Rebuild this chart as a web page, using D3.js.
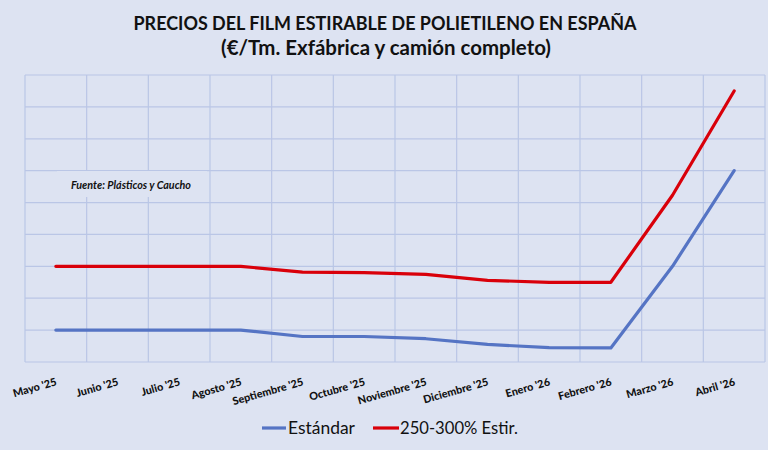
<!DOCTYPE html>
<html><head><meta charset="utf-8">
<script src="https://cdn.jsdelivr.net/npm/d3@7"></script>
<style>
html,body{margin:0;padding:0;background:#dde3f2;}
svg{display:block;}
</style></head>
<body>
<svg id="c" width="768" height="450"></svg>
<script>
const categories = ["Mayo '25","Junio '25","Julio '25","Agosto '25","Septiembre '25","Octubre '25","Noviembre '25","Diciembre '25","Enero '26","Febrero '26","Marzo '26","Abril '26"];
const estandar = [1100,1100,1100,1100,1080,1080,1073,1055,1045,1044,1300,1600];
const estir = [1300,1300,1300,1300,1282,1280,1275,1256,1250,1250,1523,1850];
const yTicks = [1000,1100,1200,1300,1400,1500,1600,1700,1800,1900];
const seriesNames = ["Estándar","250-300% Estir."];
const titleLines = ["PRECIOS DEL FILM ESTIRABLE DE POLIETILENO EN ESPAÑA","(€/Tm. Exfábrica y camión completo)"];
const sourceNote = "Fuente: Plásticos y Caucho";

const svg = d3.select("#c");
const W = 768, H = 450;
const m = {l:25, r:3, t:75, b:88};
const bg = "#dde3f2", grid = "#bac6e6";
const colors = ["#5574c4","#d9000a"];
const font = "Lato, 'Open Sans', sans-serif";

svg.append("rect").attr("width",W).attr("height",H).attr("fill",bg);

const x = d3.scaleBand().domain(categories).range([m.l, W-m.r]).padding(0);
const y = d3.scaleLinear().domain([1000,1900]).range([H-m.b, m.t]);

// gridlines
const g = svg.append("g");
g.append("g").selectAll("line").data(yTicks).join("line")
  .attr("x1",m.l).attr("x2",W-m.r)
  .attr("y1",d=>y(d)).attr("y2",d=>y(d))
  .attr("stroke",grid).attr("stroke-width",1.2);
const vb = categories.map(c=>x(c)).concat([W-m.r]);
g.append("g").selectAll("line").data(vb).join("line")
  .attr("x1",d=>d).attr("x2",d=>d)
  .attr("y1",m.t).attr("y2",H-m.b)
  .attr("stroke",grid).attr("stroke-width",1.2);

function fit(sel, target){ const n=sel.node(); const w=n.getComputedTextLength(); const fs=+sel.attr("font-size"); sel.attr("font-size", fs*target/w); }
function squeeze(sel, target){ const n=sel.node(); const w=n.getComputedTextLength(); if (w>target) sel.attr("textLength",target).attr("lengthAdjust","spacingAndGlyphs"); else fit(sel,target); }

// source note box
const note = svg.append("g");
note.append("rect").attr("x",57).attr("y",171).attr("width",150).attr("height",26).attr("fill",bg);
const nt = note.append("text").attr("x",71).attr("y",188.5)
  .attr("font-family",font).attr("font-style","italic").attr("font-weight","bold")
  .attr("font-size",10.2).attr("fill","#111").text(sourceNote);
squeeze(nt,120);

// lines
const line = d3.line().x((d,i)=>x(categories[i])+x.bandwidth()/2).y(d=>y(d));
[estandar, estir].forEach((s,k)=>{
  svg.append("path").datum(s).attr("d",line).attr("fill","none")
    .attr("stroke",colors[k]).attr("stroke-width",3.2)
    .attr("stroke-linejoin","round").attr("stroke-linecap","round");
});

// x labels
svg.append("g").selectAll("text").data(categories).join("text")
  .attr("transform",d=>`translate(${x(d)+x.bandwidth()/2+1.5},${385}) rotate(-16)`)
  .attr("text-anchor","end")
  .attr("font-family",font).attr("font-weight","900").attr("font-size",10.8)
  .attr("fill","#111").text(d=>d);

// title
const t1 = svg.append("text").attr("x",385).attr("y",29.5).attr("text-anchor","middle")
  .attr("font-family",font).attr("font-weight","bold").attr("font-size",18.5).attr("fill","#111").text(titleLines[0]);
squeeze(t1,503);
const t2 = svg.append("text").attr("x",386).attr("y",55).attr("text-anchor","middle")
  .attr("font-family",font).attr("font-weight","bold").attr("font-size",18.5).attr("fill","#111").text(titleLines[1]);
squeeze(t2,330);

// legend
const leg = [{x1:262,x2:286,tx:288,w:67},{x1:373,x2:399,tx:400,w:118}];
leg.forEach((L,k)=>{
  svg.append("line").attr("x1",L.x1).attr("x2",L.x2).attr("y1",428).attr("y2",428)
    .attr("stroke",colors[k]).attr("stroke-width",3.2);
  const t = svg.append("text").attr("x",L.tx).attr("y",433.5)
    .attr("font-family",font).attr("font-size",15.5).attr("fill","#111").text(seriesNames[k]);
  squeeze(t,L.w);
});
</script>
</body></html>
